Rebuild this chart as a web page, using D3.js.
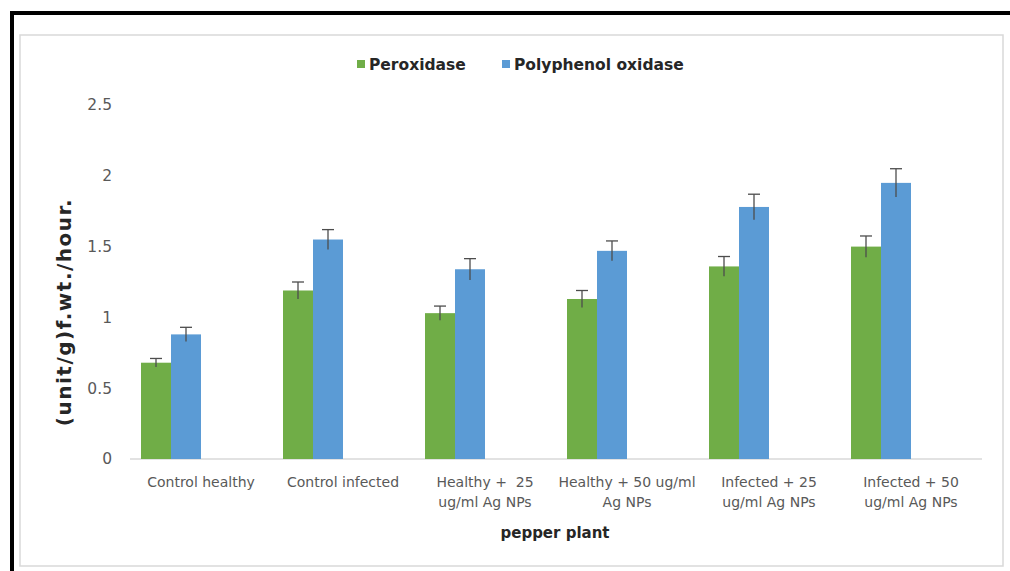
<!DOCTYPE html>
<html>
<head>
<meta charset="utf-8">
<script src="https://cdn.jsdelivr.net/npm/d3@7"></script>
<style>
  body { margin: 0; background: #fff; }
  svg text { font-family: "DejaVu Sans", "Open Sans", sans-serif; }
</style>
</head>
<body>
<div id="chart"></div>
<script>
// categories (x labels are split on "\n")
const categories = [
    "Control healthy",
    "Control infected",
    "Healthy +  25\nug/ml Ag NPs",
    "Healthy + 50 ug/ml\nAg NPs",
    "Infected + 25\nug/ml Ag NPs",
    "Infected + 50\nug/ml Ag NPs"
];
const seriesNames = ["Peroxidase", "Polyphenol oxidase"];
const peroxidase = [0.68, 1.19, 1.03, 1.13, 1.36, 1.50];
const peroxidaseErr = [0.03, 0.06, 0.05, 0.06, 0.07, 0.075];
const polyphenol = [0.88, 1.55, 1.34, 1.47, 1.78, 1.95];
const polyphenolErr = [0.05, 0.07, 0.075, 0.07, 0.09, 0.10];
const yTicks = [0, 0.5, 1, 1.5, 2, 2.5];
const colors = ["#70ad47", "#5b9bd5"];

const W = 1010, H = 571;
const svg = d3.select("#chart").append("svg")
    .attr("width", W)
    .attr("height", H);

// black frame (top + left) and light chart border
svg.append("rect").attr("x", 20).attr("y", 35).attr("width", 983).attr("height", 531)
    .attr("fill", "#fff").attr("stroke", "#d9d9d9").attr("stroke-width", 1.5);
svg.append("line").attr("x1", 10).attr("x2", W).attr("y1", 13).attr("y2", 13)
    .attr("stroke", "#000").attr("stroke-width", 4);
svg.append("line").attr("x1", 12).attr("x2", 12).attr("y1", 11).attr("y2", H)
    .attr("stroke", "#000").attr("stroke-width", 4);

const margin = {left: 130, right: 28, top: 105, bottom: 112};
const plotW = W - margin.left - margin.right;
const plotH = H - margin.top - margin.bottom;

const g = svg.append("g").attr("transform", `translate(${margin.left},${margin.top})`);

const x0 = d3.scaleBand()
    .domain(categories)
    .range([0, plotW])
    .paddingInner(0.155)
    .paddingOuter(0.0775);

// the pair of bars fills the left half of each group slot
const x1 = d3.scaleBand()
    .domain(seriesNames)
    .range([0, x0.bandwidth() / 2]);

const y = d3.scaleLinear().domain([0, 2.5]).range([plotH, 0]);

// y axis
const yAxis = g.append("g")
    .call(d3.axisLeft(y).tickValues(yTicks).tickSize(0).tickPadding(18).tickFormat(d3.format("")));
yAxis.select(".domain").remove();
yAxis.selectAll("text").attr("fill", "#595959")
    .style("font-family", "'DejaVu Sans', sans-serif").style("font-size", "15.5px");

// x axis line
g.append("line")
    .attr("x1", 0).attr("x2", plotW)
    .attr("y1", y(0)).attr("y2", y(0))
    .attr("stroke", "#d9d9d9").attr("stroke-width", 1.5);

const data = categories.map((c, i) => ({
    cat: c,
    values: [
        {key: seriesNames[0], v: peroxidase[i], e: peroxidaseErr[i], color: colors[0]},
        {key: seriesNames[1], v: polyphenol[i], e: polyphenolErr[i], color: colors[1]}
    ]
}));

const groups = g.selectAll(".grp")
    .data(data)
    .enter().append("g")
    .attr("class", "grp")
    .attr("transform", d => `translate(${x0(d.cat)},0)`);

groups.selectAll("rect")
    .data(d => d.values)
    .enter().append("rect")
    .attr("x", d => x1(d.key))
    .attr("y", d => y(d.v))
    .attr("width", x1.bandwidth())
    .attr("height", d => y(0) - y(d.v))
    .attr("fill", d => d.color);

// error bars
const err = groups.selectAll(".err")
    .data(d => d.values)
    .enter().append("g")
    .attr("class", "err")
    .attr("stroke", "#4d4d4d")
    .attr("stroke-width", 1.3);
err.append("line")
    .attr("x1", d => x1(d.key) + x1.bandwidth() / 2)
    .attr("x2", d => x1(d.key) + x1.bandwidth() / 2)
    .attr("y1", d => y(d.v - d.e))
    .attr("y2", d => y(d.v + d.e));
err.append("line")
    .attr("x1", d => x1(d.key) + x1.bandwidth() / 2 - 6)
    .attr("x2", d => x1(d.key) + x1.bandwidth() / 2 + 6)
    .attr("y1", d => y(d.v + d.e))
    .attr("y2", d => y(d.v + d.e));

// x labels
const xl = g.selectAll(".xl")
    .data(categories)
    .enter().append("text")
    .attr("class", "xl")
    .attr("text-anchor", "middle")
    .attr("fill", "#595959")
    .style("font-size", "14px")
    .attr("transform", d => `translate(${x0(d) + x0.bandwidth() / 2},${plotH + 28})`);
xl.selectAll("tspan")
    .data(d => d.split("\n"))
    .enter().append("tspan")
    .attr("x", 0)
    .attr("dy", (d, i) => i === 0 ? 0 : 20)
    .attr("xml:space", "preserve")
    .style("white-space", "pre")
    .text(d => d);

// axis titles
svg.append("text")
    .attr("x", 555).attr("y", 538)
    .attr("text-anchor", "middle")
    .attr("fill", "#262626")
    .style("font-size", "15px").style("font-weight", "bold")
    .text("pepper plant");

svg.append("text")
    .attr("transform", "translate(71,312) rotate(-90)")
    .attr("text-anchor", "middle")
    .attr("fill", "#262626")
    .style("font-size", "20px").style("font-weight", "bold")
    .style("letter-spacing", "1.5px")
    .text("(unit/g)f.wt./hour.");

// legend
const legend = svg.append("g").attr("transform", "translate(357,65)");
const legX = [0, 145];
seriesNames.forEach((s, i) => {
    legend.append("rect")
        .attr("x", legX[i]).attr("y", -5)
        .attr("width", 8).attr("height", 8)
        .attr("fill", colors[i]);
    legend.append("text")
        .attr("x", legX[i] + 12).attr("y", 5)
        .attr("fill", "#262626")
        .style("font-size", "15.5px").style("font-weight", "bold")
        .text(s);
});
</script>
</body>
</html>
